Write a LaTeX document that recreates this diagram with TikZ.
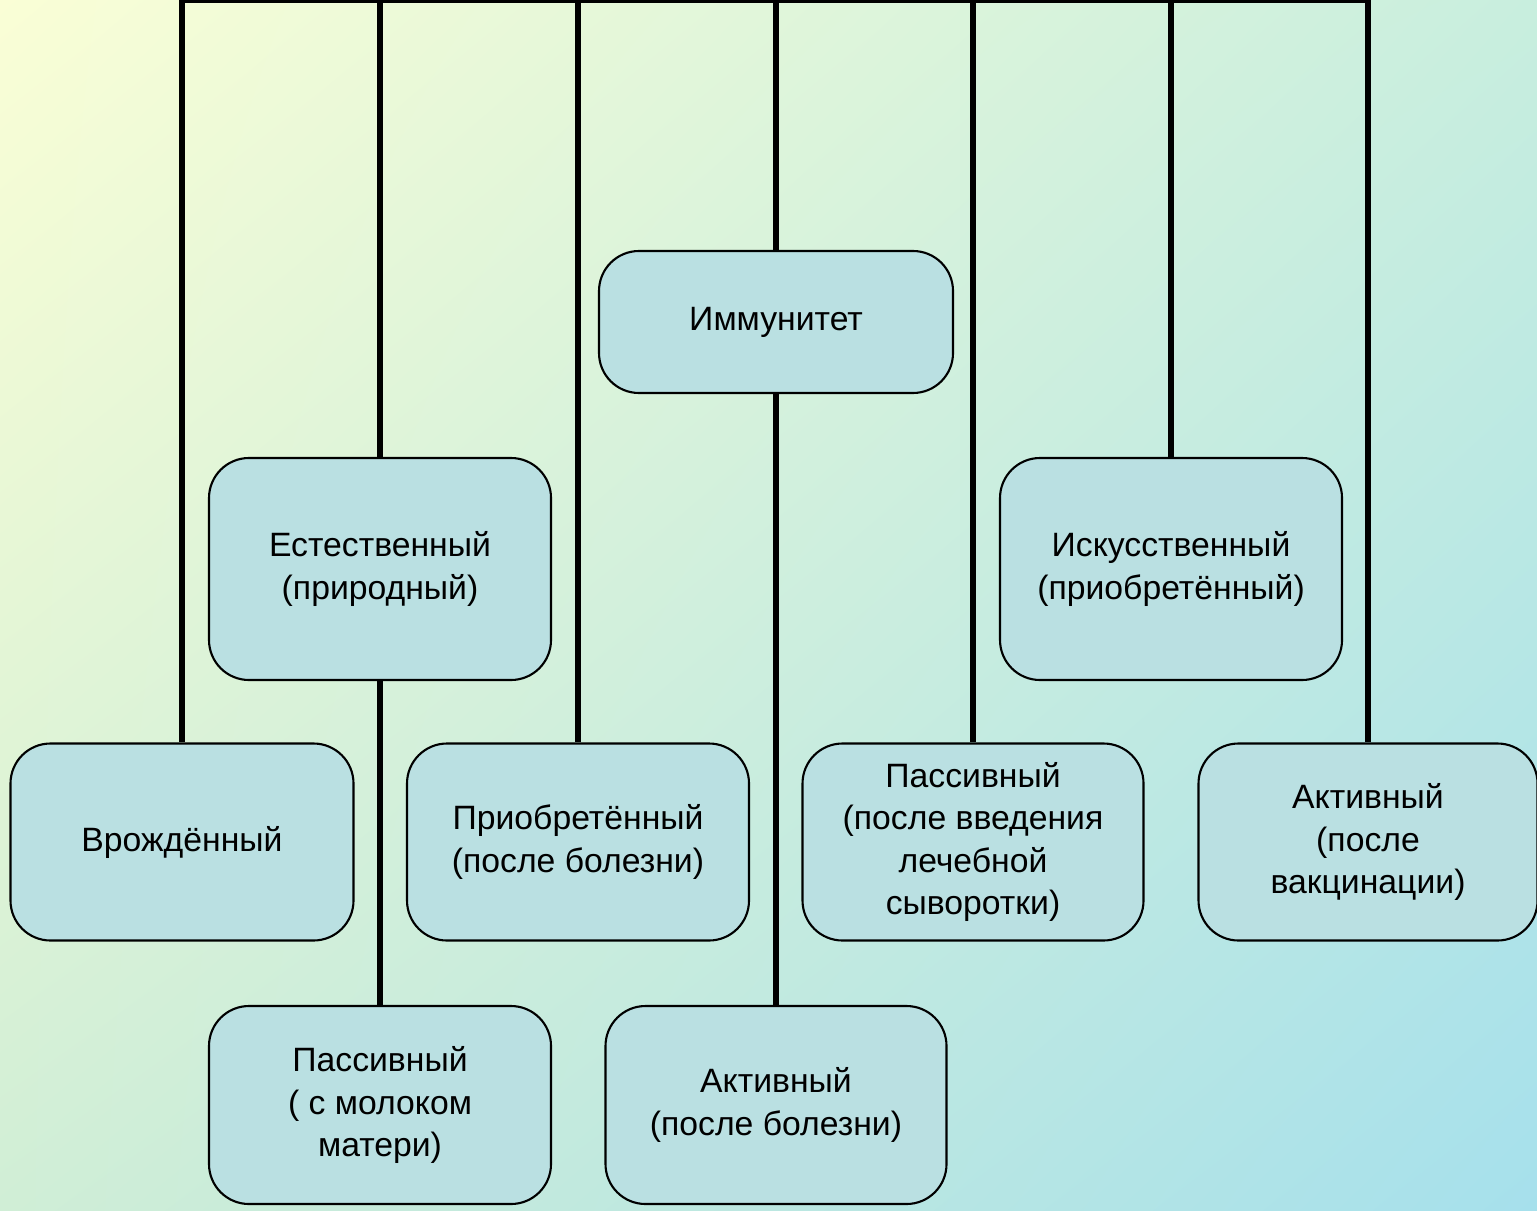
\documentclass[tikz,border=0pt]{standalone}
\usepackage{fontspec}
\setmainfont{Liberation Sans}
\usetikzlibrary{positioning,shadings}
\definecolor{bgtl}{RGB}{250,254,214}
\definecolor{bgtr}{RGB}{200,238,222}
\definecolor{bgbl}{RGB}{208,238,214}
\definecolor{bgbr}{RGB}{166,224,236}
\definecolor{boxfill}{RGB}{186,224,226}
\tikzset{
  kind/.style={draw=black, line width=0.6pt, fill=boxfill, rounded corners=0.4cm,
    align=center, inner sep=0pt, font=\fontsize{9.6}{12}\selectfont},
  link/.style={line width=1.7pt, black}
}

\begin{document}
\begin{tikzpicture}
% Background
\useasboundingbox (0,0) rectangle (15.37,-12.10);
\shade[upper left=bgtl, upper right=bgtr, lower left=bgbl, lower right=bgbr]
  (0,0) rectangle (15.37,-12.10);

% Boxes
\node[kind, minimum width=3.54cm, minimum height=1.42cm] (imm) at (7.76,-3.22) {Иммунитет};
\node[kind, minimum width=3.42cm, minimum height=2.22cm] (est) at (3.80,-5.69) {Естественный\\(природный)};
\node[kind, minimum width=3.42cm, minimum height=2.22cm] (isk) at (11.71,-5.69) {Искусственный\\(приобретённый)};
\node[kind, minimum width=3.43cm, minimum height=1.97cm] (vrozh) at (1.82,-8.42) {Врождённый};
\node[kind, minimum width=3.42cm, minimum height=1.97cm] (priob) at (5.78,-8.42) {Приобретённый\\(после болезни)};
\node[kind, minimum width=3.41cm, minimum height=1.97cm] (passser) at (9.73,-8.42) {Пассивный\\(после введения\\лечебной\\сыворотки)};
\node[kind, minimum width=3.39cm, minimum height=1.97cm] (aktvak) at (13.68,-8.42) {Активный\\(после\\вакцинации)};
\node[kind, minimum width=3.42cm, minimum height=1.98cm] (passmol) at (3.80,-11.05) {Пассивный\\( с молоком\\матери)};
\node[kind, minimum width=3.41cm, minimum height=1.98cm] (aktbol) at (7.76,-11.05) {Активный\\(после болезни)};

% Top bar
\coordinate (top) at (0,-0.005);
\draw[link, line cap=rect] (vrozh.north |- top) -- (aktvak.north |- top);

% Drops from the bar
\draw[link] (vrozh.north |- top) -- (vrozh.north);
\draw[link] (est.north |- top) -- (est.north);
\draw[link] (priob.north |- top) -- (priob.north);
\draw[link] (imm.north |- top) -- (imm.north);
\draw[link] (passser.north |- top) -- (passser.north);
\draw[link] (isk.north |- top) -- (isk.north);
\draw[link] (aktvak.north |- top) -- (aktvak.north);

% Lower links
\draw[link] (est.south) -- (passmol.north);
\draw[link] (imm.south) -- (aktbol.north);
\end{tikzpicture}
\end{document}
